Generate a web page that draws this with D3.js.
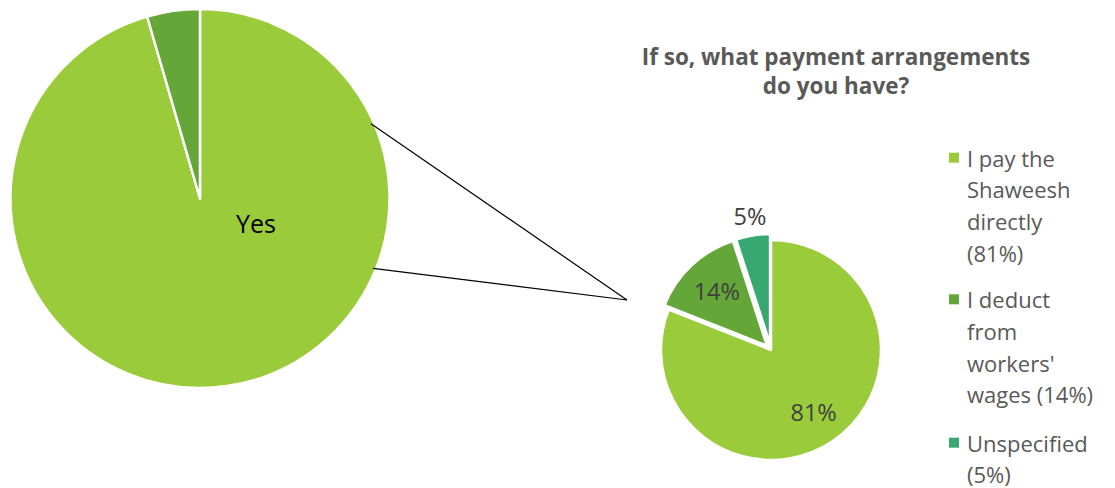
<!DOCTYPE html>
<html><head><meta charset="utf-8">
<script src="https://cdn.jsdelivr.net/npm/d3@7"></script>
<style>body{margin:0;background:#fff}svg{display:block}text{font-family:"Open Sans",sans-serif}</style>
</head><body><svg id="c" width="1115" height="488"></svg>
<script>
// Data
const mainCategories = ["Yes", "No"];
const mainValues = [95.5, 4.5];
const subCategories = ["I pay the Shaweesh directly (81%)", "I deduct from workers' wages (14%)", "Unspecified (5%)"];
const subValues = [81, 14, 5];
const subLabels = ["81%", "14%", "5%"];
const legendLines = [["I pay the", "Shaweesh", "directly", "(81%)"], ["I deduct", "from", "workers'", "wages (14%)"], ["Unspecified", "(5%)"]];
const titleLines = ["If so, what payment arrangements", "do you have?"];

const mainColors = ["#9ACB3B", "#64A638"];
const subColors = ["#9ACB3B", "#64A638", "#36A870"];

const svg = d3.select("#c");

// Big pie
const big = {cx: 200, cy: 198.5, r: 189.5};
const pie = d3.pie().sort(null).startAngle(0).endAngle(2 * Math.PI);
const bigArcs = pie(mainValues);
const bigArc = d3.arc().innerRadius(0).outerRadius(big.r);
const gBig = svg.append("g").attr("transform", `translate(${big.cx},${big.cy})`);
gBig.selectAll("path").data(bigArcs).join("path")
  .attr("d", bigArc).attr("fill", (d, i) => mainColors[i])
  .attr("stroke", "#fff").attr("stroke-width", 2.5).attr("stroke-linejoin", "round");
gBig.append("text").attr("x", 56).attr("y", 34).attr("text-anchor", "middle")
  .attr("font-size", 25).attr("fill", "#000").text(mainCategories[0]);

// Small pie
const small = {cx: 771, cy: 350, r: 110};
const subArcs = pie(subValues);
const smallArc = d3.arc().innerRadius(0).outerRadius(small.r);
const explode = [0, 6, 6];
const gSmall = svg.append("g").attr("transform", `translate(${small.cx},${small.cy})`);
gSmall.selectAll("path").data(subArcs).join("path")
  .attr("d", smallArc).attr("fill", (d, i) => subColors[i])
  .attr("stroke", "#fff").attr("stroke-width", 2.5).attr("stroke-linejoin", "round")
  .attr("transform", (d, i) => {
    const a = (d.startAngle + d.endAngle) / 2;
    return `translate(${Math.sin(a) * explode[i]},${-Math.cos(a) * explode[i]})`;
  });
const labelR = [0.69, 0.72, 1.22];
gSmall.selectAll("text.lbl").data(subArcs).join("text").attr("class", "lbl")
  .attr("x", (d, i) => Math.sin((d.startAngle + d.endAngle) / 2) * small.r * labelR[i])
  .attr("y", (d, i) => -Math.cos((d.startAngle + d.endAngle) / 2) * small.r * labelR[i] + 8)
  .attr("text-anchor", "middle").attr("font-size", 23.5).attr("fill", "#404040")
  .text((d, i) => subLabels[i]);

// Connector lines
const apex = [627, 300];
const connAngles = [66.4, 112].map(a => a * Math.PI / 180);
svg.selectAll("line.conn").data(connAngles).join("line").attr("class", "conn")
  .attr("x1", a => big.cx + Math.sin(a) * big.r * 0.985)
  .attr("y1", a => big.cy - Math.cos(a) * big.r * 0.985)
  .attr("x2", apex[0]).attr("y2", apex[1])
  .attr("stroke", "#000").attr("stroke-width", 1.2);

// Title
svg.append("text").attr("x", 836).attr("y", 65).attr("text-anchor", "middle")
  .attr("font-size", 22.5).attr("font-weight", "bold").attr("fill", "#595959")
  .selectAll("tspan").data(titleLines).join("tspan")
  .attr("x", 836).attr("dy", (d, i) => i ? 28.5 : 0).text(d => d);

// Legend
const lineH = 31.7;
const groupStart = [166.7, 308.3, 451.7];
const leg = svg.append("g");
legendLines.forEach((lines, i) => {
  leg.append("rect").attr("x", 949).attr("y", groupStart[i] - 14).attr("width", 10).attr("height", 10)
    .attr("fill", subColors[i]);
  leg.append("text").attr("font-size", 22).attr("fill", "#595959")
    .selectAll("tspan").data(lines).join("tspan")
    .attr("x", 967).attr("y", (d, j) => groupStart[i] + j * lineH).text(d => d);
});
</script></body></html>
